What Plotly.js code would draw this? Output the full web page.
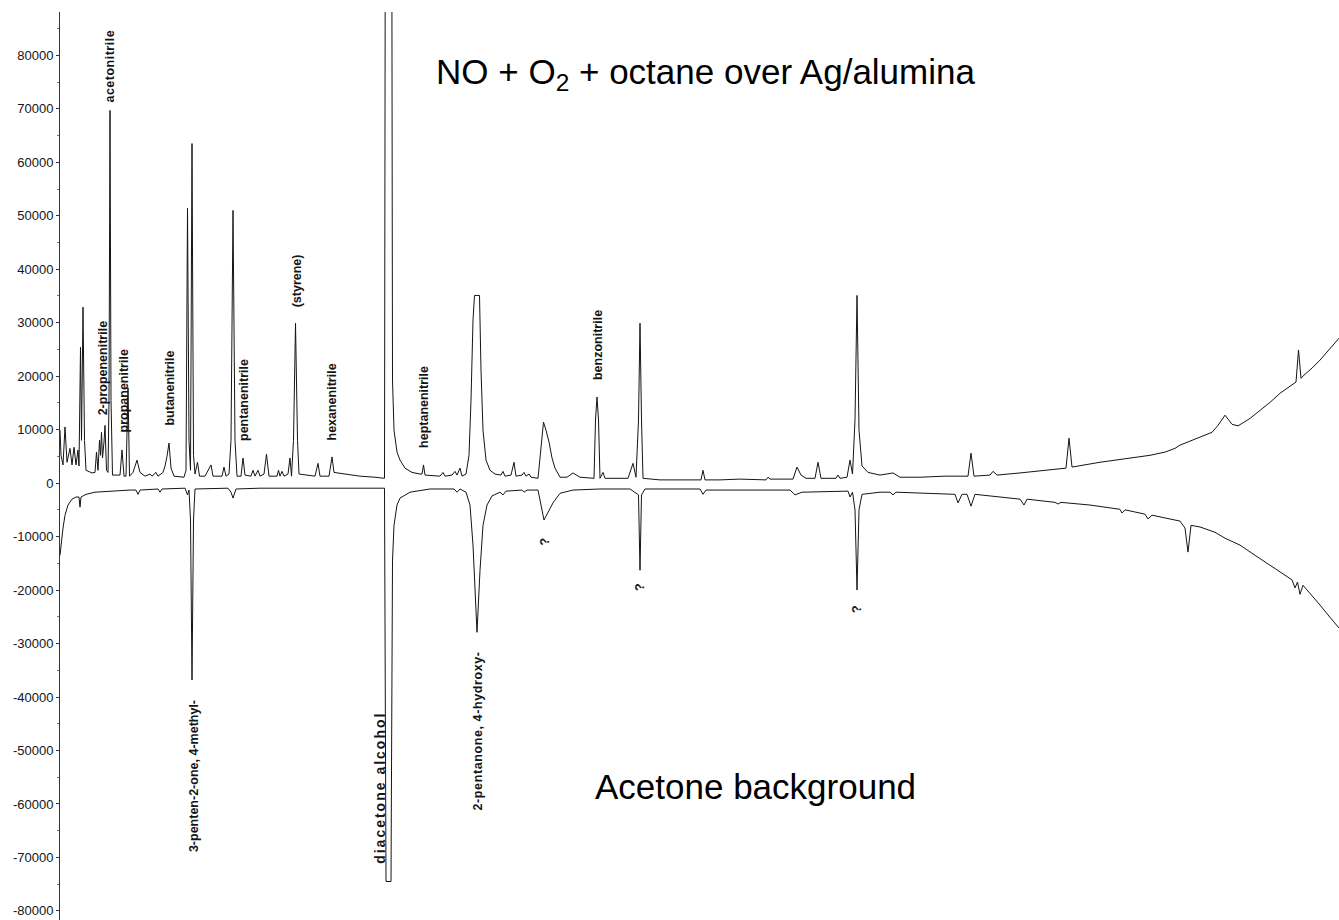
<!DOCTYPE html>
<html>
<head>
<meta charset="utf-8">
<script src="https://cdn.plot.ly/plotly-3.0.1.min.js"></script>
<style>
  html, body { margin: 0; padding: 0; background: #fff; }
  #chart { width: 1339px; height: 920px; }
</style>
</head>
<body>
<div id="chart"></div>
<script>
// Retention time (min) and detector response for the sample run
const sampleTime = [
  0, 0.025, 0.075, 0.125, 0.175, 0.25, 0.3, 0.35, 0.4, 0.45, 0.475, 0.5125, 0.5375, 0.575, 0.6125, 0.65,
  0.8, 0.875, 0.9125, 0.95, 0.9875, 1.0125, 1.0375, 1.0625, 1.1, 1.125, 1.1625, 1.2, 1.225, 1.25, 1.275, 1.3125,
  1.5, 1.55, 1.6, 1.65, 1.7, 1.7375, 1.825, 1.925, 2.0, 2.125, 2.25, 2.3, 2.4, 2.45, 2.575, 2.625, 2.675, 2.725,
  2.775, 2.85, 3.1, 3.15, 3.1875, 3.225, 3.2625, 3.3, 3.3375, 3.375, 3.4375, 3.4875, 3.625, 3.775, 3.825, 4.05,
  4.1, 4.15, 4.225, 4.275, 4.325, 4.375, 4.425, 4.525, 4.575, 4.625, 4.775, 4.825, 4.875, 4.95, 5.0, 5.1, 5.1625,
  5.225, 5.425, 5.4625, 5.5, 5.55, 5.6, 5.7, 5.75, 5.7875, 5.8375, 5.8875, 5.9375, 5.975, 6.375, 6.45, 6.5, 6.725,
  6.8, 6.85, 7.125, 7.5, 7.875, 8.1125, 8.15, 8.275, 8.3125, 8.35, 8.425, 8.5, 8.625, 8.8, 9.0, 9.05, 9.0875,
  9.125, 9.5, 9.575, 9.625, 9.8, 9.875, 9.925, 10.0, 10.05, 10.15, 10.225, 10.275, 10.325, 10.3625, 10.4875,
  10.525, 10.575, 10.65, 10.75, 10.875, 11.025, 11.075, 11.125, 11.275, 11.35, 11.4, 11.55, 11.6, 11.65, 11.725,
  11.775, 11.95, 12.025, 12.0875, 12.15, 12.225, 12.3, 12.375, 12.5, 12.675, 12.825, 13.0, 13.35, 13.3875, 13.425,
  13.4625, 13.5, 13.575, 13.625, 14.2, 14.325, 14.4, 14.4625, 14.5, 14.5375, 14.575, 15.0, 15.5, 16.025, 16.075,
  16.125, 16.5, 17.0, 17.65, 17.7, 17.75, 18.325, 18.425, 18.525, 18.65, 18.875, 18.95, 19.025, 19.4, 19.45, 19.5,
  19.675, 19.75, 19.8125, 19.875, 19.925, 19.975, 20.05, 20.2, 20.5, 20.825, 21.0, 21.5, 22.125, 22.7, 22.775,
  22.85, 23.25, 23.325, 23.425, 24.0, 24.625, 25.15, 25.225, 25.3, 26.0, 26.625, 27.25, 27.625, 27.875, 28.0,
  28.25, 28.5, 28.8, 28.95, 29.125, 29.3, 29.45, 29.75, 30.0, 30.25, 30.5, 30.75, 30.9, 30.9625, 31.025, 31.1,
  31.3, 31.5, 31.75, 31.975
];
const sampleSignal = [
  9900, 5200, 3400, 10500, 3900, 6500, 3400, 6700, 3400, 6200, 3200, 25400, 8000, 32900, 8000, 2400,
  1900, 2000, 5800, 2400, 8000, 5200, 9500, 4700, 7700, 10800, 2400, 2000, 15500, 69700, 15500, 1500,
  1500, 6200, 1300, 1300, 17800, 1300, 2000, 4300, 2000, 1300, 1700, 1300, 2000, 1300, 2000, 3200, 5000, 7500,
  2800, 1300, 1100, 2400, 51400, 8000, 2400, 63500, 5200, 1700, 3900, 1300, 1300, 3400, 1300, 1300,
  3000, 1300, 1700, 8000, 51000, 8000, 1300, 1300, 4700, 1500, 1300, 2400, 1300, 2400, 1300, 1700, 5400,
  1300, 1300, 2400, 1300, 2200, 1300, 1700, 4700, 1300, 8000, 29900, 8000, 1700, 1300, 3700, 1300, 1300,
  4900, 2000, 1700, 1300, 1100, 900, 200000, 200000, 19300, 9900, 5800, 4300, 2800, 2000, 1700, 1700, 3400,
  1500, 1300, 2000, 1300, 1500, 2200, 1500, 2800, 1300, 1700, 5200, 15500, 30500, 35100, 35100,
  21100, 9900, 4300, 2400, 1700, 1500, 2200, 1300, 1500, 3900, 1300, 1500, 2000, 1300, 1700,
  1100, 900, 7100, 11400, 9900, 7700, 4700, 2800, 1100, 1100, 1900, 1100, 900, 11800, 16100,
  11800, 900, 2000, 900, 900, 3700, 1100, 11800, 29900, 11800, 900, 600, 600, 600, 2400,
  600, 600, 750, 600, 1100, 750, 750, 3000, 1500, 900, 900, 3900, 900, 900, 1500, 900,
  1100, 4300, 1700, 11800, 35100, 9900, 3200, 2000, 1500, 1900, 1100, 1100, 1300, 1300, 5600,
  1300, 1500, 2200, 1500, 1900, 2400, 2800, 8400, 3000, 3900, 4500, 5200, 5800, 6500, 7100,
  7900, 8600, 9500, 10800, 12700, 11000, 10700, 12100, 13600, 15100, 16800, 18100, 18900, 24900, 19600, 20200,
  21500, 23000, 25200, 27100
];

// Retention time (min) and detector response for the acetone blank, plotted inverted
const blankTime = [
  0, 0.025, 0.075, 0.125, 0.2, 0.3, 0.4, 0.475, 0.5, 0.525, 0.65, 0.875, 1.25, 1.75, 1.9, 1.95, 2.0, 2.45, 2.5,
  2.55, 3.125, 3.1875, 3.225, 3.2625, 3.3, 3.3375, 3.375, 4.2, 4.275, 4.325, 4.4, 5.0, 6.0, 8.1125, 8.15, 8.275,
  8.3125, 8.35, 8.425, 8.5, 8.75, 9.25, 9.85, 9.925, 10.0, 10.15, 10.25, 10.325, 10.425, 10.5, 10.575, 10.675,
  10.8, 11.0, 11.075, 11.15, 11.55, 11.6, 11.675, 11.95, 12.1, 12.2, 12.325, 12.5, 12.825, 13.5, 14.25, 14.4625,
  14.5, 14.5375, 14.625, 16.0, 16.075, 16.15, 18.25, 18.375, 18.55, 19.7, 19.75, 19.8125, 19.875, 19.925, 19.975,
  20.05, 20.5, 20.75, 20.825, 20.9, 22.0, 22.375, 22.45, 22.55, 22.675, 22.775, 22.875, 23.5, 24.0, 24.1, 24.175,
  24.875, 24.95, 25.025, 25.75, 26.5, 26.55, 26.625, 27.125, 27.2, 27.3, 28.0, 28.125, 28.2, 28.275, 28.5,
  28.875, 29.125, 29.5, 29.875, 30.125, 30.5, 30.8, 30.875, 30.9375, 31.0, 31.075, 31.25, 31.5, 31.75, 31.975
];
const blankSignal = [
  -13500, -11600, -8400, -6000, -4100, -3000, -2600, -2600, -4500, -2600, -2100, -1700, -1500, -1300, -1300, -2100, -1300, -1100, -1700,
  -1100, -950, -2200, -1300, -6900, -36800, -6900, -1100, -950, -1700, -2800, -1100, -950, -950, -950, -74500, -74500,
  -14400, -7900, -4100, -2800, -1700, -1100, -1100, -1700, -1100, -1700, -4100, -11600, -27900, -16300, -7900, -4100,
  -2400, -1700, -2200, -1500, -1300, -1700, -1300, -1300, -6900, -5400, -3700, -1900, -1300, -1100, -1100, -2200,
  -16300, -2200, -1100, -1100, -2100, -1300, -1300, -2200, -1700, -1500, -2600, -1700, -5000, -20000, -5000,
  -2100, -1700, -1700, -2200, -1700, -1900, -2100, -3700, -2100, -2100, -4300, -2100, -2600, -3000, -4100, -3000,
  -3600, -3900, -3600, -4100, -4900, -5600, -5000, -5800, -6700, -6000, -7100, -8400, -12900, -7900, -8200,
  -9200, -10300, -11600, -13500, -14800, -16600, -18100, -19600, -18500, -20800, -19100, -20600, -22800, -25100, -27100
];

// Compound labels (rotated), placed at retention time / response
const peakNames = ['acetonitrile', '2-propenenitrile', 'propanenitrile', 'butanenitrile', 'pentanenitrile',
  '(styrene)', 'hexanenitrile', 'heptanenitrile', 'benzonitrile',
  '3-penten-2-one, 4-methyl-', 'diacetone alcohol', '2-pentanone, 4-hydroxy-', '?', '?', '?'];
const peakNameTime = [1.25, 1.075, 1.6, 2.75, 4.6, 5.925, 6.8, 9.1, 13.45, 3.35, 8.0, 10.45, 12.125, 14.5, 19.925];
const peakNameY = [70700, 12200, 9000, 10300, 7500, 32400, 7500, 6200, 18900, -40200, -42400, -31200, -9800, -18300, -22400];

const yTicks = [80000, 70000, 60000, 50000, 40000, 30000, 20000, 10000, 0,
  -10000, -20000, -30000, -40000, -50000, -60000, -70000, -80000];

const ink = '#151515';
const font = 'Arial, "Liberation Sans", Helvetica, sans-serif';

// per-label typesetting tweaks: tracking (px) and size
const labelStyle = {
  'diacetone alcohol': { ls: 2, size: 14 },
  '2-pentanone, 4-hydroxy-': { ls: 0.6 },
  'acetonitrile': { ls: 0.5 }
};

const traces = [
  { x: sampleTime, y: sampleSignal, type: 'scatter', mode: 'lines',
    line: { color: ink, width: 1 }, hoverinfo: 'skip' },
  { x: blankTime, y: blankSignal, type: 'scatter', mode: 'lines',
    line: { color: ink, width: 1 }, hoverinfo: 'skip' }
];

const annotations = peakNames.map((name, i) => {
  const st = labelStyle[name] || {};
  const body = st.ls ? '<span style="letter-spacing:' + st.ls + 'px">' + name + '</span>' : name;
  return {
    x: peakNameTime[i], y: peakNameY[i], xref: 'x', yref: 'y',
    text: '<b>' + body + '</b>', showarrow: false, textangle: -90,
    xanchor: 'center', yanchor: peakNameY[i] >= 0 ? 'bottom' : 'top',
    font: { family: font, size: st.size || 12.5, color: ink }
  };
});

annotations.push({
  x: 0.505, y: 0.932, xref: 'paper', yref: 'paper', showarrow: false,
  text: 'NO + O<sub>2</sub> + octane over Ag/alumina',
  xanchor: 'center', yanchor: 'middle',
  font: { family: font, size: 35, color: '#000' }
});
annotations.push({
  x: 0.5438, y: 0.1465, xref: 'paper', yref: 'paper', showarrow: false,
  text: 'Acetone background',
  xanchor: 'center', yanchor: 'middle',
  font: { family: font, size: 35, color: '#000' }
});

const layout = {
  width: 1339, height: 920,
  margin: { l: 60, r: 0, t: 12, b: 0, pad: 0 },
  paper_bgcolor: '#fff', plot_bgcolor: '#fff',
  showlegend: false,
  xaxis: { range: [0, 31.975], visible: false, fixedrange: true },
  yaxis: {
    range: [-81700, 88100], tickvals: yTicks, ticktext: yTicks.map(String),
    showgrid: false, zeroline: false, showline: true, linecolor: '#333', linewidth: 1,
    ticks: 'outside', ticklen: 3, tickcolor: '#333',
    tickfont: { family: font, size: 13, color: ink },
    minor: { dtick: 5000, ticks: 'outside', ticklen: 2, tickcolor: '#777' },
    fixedrange: true
  },
  annotations: annotations
};

Plotly.newPlot('chart', traces, layout, { displayModeBar: false, staticPlot: true });
</script>
</body>
</html>
